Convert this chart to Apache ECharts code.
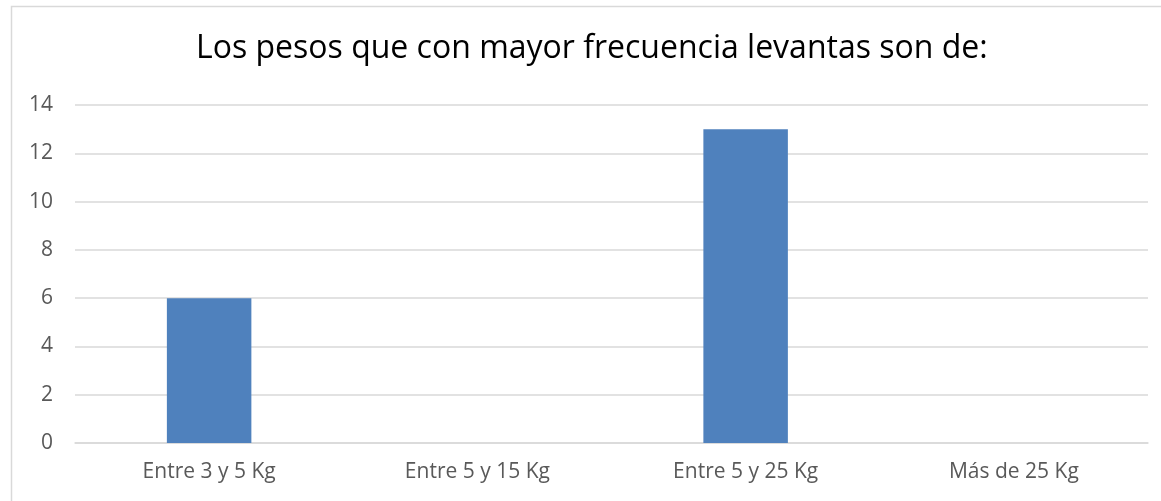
<!DOCTYPE html>
<html>
<head>
<meta charset="utf-8">
<script src="https://cdn.jsdelivr.net/npm/echarts@6/dist/echarts.min.js"></script>
<style>
  html, body { margin: 0; padding: 0; background: #fff; }
  #chart { width: 1161px; height: 501px; }
</style>
</head>
<body>
<div id="chart"></div>
<script>
// Weight ranges and response counts
const categories = ['Entre 3 y 5 Kg', 'Entre 5 y 15 Kg', 'Entre 5 y 25 Kg', 'Más de 25 Kg'];
const counts = [6, 0, 13, 0];
const yTicks = [0, 2, 4, 6, 8, 10, 12, 14];

const chart = echarts.init(document.getElementById('chart'), null, { renderer: 'canvas' });
const fontFamily = '"Open Sans", "Liberation Sans", sans-serif';

chart.setOption({
  animation: false,
  backgroundColor: '#ffffff',
  graphic: [{
    type: 'rect',
    shape: { x: 11.5, y: 6.5, width: 1164, height: 520 },
    style: { fill: 'none', stroke: '#d9d9d9', lineWidth: 1.5 },
    silent: true
  }],
  title: {
    text: 'Los pesos que con mayor frecuencia levantas son de:',
    left: 196,
    top: 33,
    padding: 0,
    textStyle: { fontFamily, fontSize: 32, fontWeight: 'normal', color: '#000000' }
  },
  grid: { left: 75, right: 13, top: 105, bottom: 58, containLabel: false },
  xAxis: {
    type: 'category',
    data: categories,
    axisLine: { show: true, lineStyle: { color: '#d9d9d9', width: 1.5 } },
    axisTick: { show: false },
    axisLabel: { fontFamily, fontSize: 21, color: '#595959', margin: 19 }
  },
  yAxis: {
    type: 'value',
    min: yTicks[0],
    max: yTicks[yTicks.length - 1],
    interval: 2,
    axisLine: { show: false },
    axisTick: { show: false },
    axisLabel: { fontFamily, fontSize: 21, color: '#595959', margin: 22, align: 'right' },
    splitLine: { lineStyle: { color: '#d9d9d9', width: 1.5 } }
  },
  series: [{
    type: 'bar',
    data: counts,
    barWidth: '31.5%',
    itemStyle: { color: '#4f81bd' }
  }]
});
</script>
</body>
</html>
